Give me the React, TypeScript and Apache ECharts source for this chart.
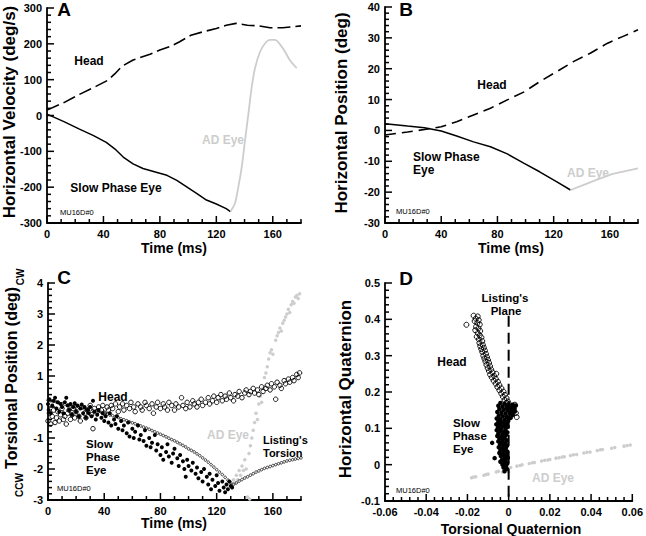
import React, { useEffect, useRef } from 'react';
import * as echarts from 'echarts';

const FONT = '"Liberation Sans", Arial, Helvetica, sans-serif';
const GRAY = '#cdcdcd';

// ---------- Panel A : horizontal velocity (deg/s) vs time (ms)
const aHeadT = [0, 12, 23, 35, 43, 48, 53, 61, 73, 80, 87, 94, 102, 111, 120, 127, 134, 142, 150, 158, 167, 180];
const aHeadV = [15, 36, 59, 82, 98, 116, 137, 155, 171, 183, 192, 206, 224, 234, 243, 252, 257, 252, 250, 245, 245, 250];
const aEyeT = [0, 12, 23, 33, 42, 48, 54, 61, 68, 78, 85, 92, 99, 106, 113, 120, 127, 130];
const aEyeV = [4, -17, -38, -56, -75, -93, -116, -135, -148, -159, -167, -181, -199, -217, -236, -247, -260, -268];
const aAdT = [130, 133.2, 135.6, 138, 140.3, 142.7, 145, 147.4, 151, 154.5, 158, 161.6, 165, 168.7, 172, 177];
const aAdV = [-268, -245, -199, -144, -70, 4, 77, 132, 178, 201, 211, 211, 199, 178, 155, 132];

// ---------- Panel B : horizontal position (deg) vs time (ms)
const bHeadT = [0, 16, 28, 40, 51, 63, 75, 87, 99, 110, 122, 134, 146, 158, 169, 180];
const bHeadV = [-1.5, -0.5, 0.3, 1.2, 2.8, 5.0, 7.2, 9.9, 12.5, 15.8, 19.0, 22.3, 25.0, 28.2, 30.4, 32.6];
const bEyeT = [0, 16, 28, 40, 51, 63, 75, 87, 99, 110, 122, 132];
const bEyeV = [2.2, 1.4, 0.9, -0.2, -1.8, -3.7, -5.3, -7.6, -10.7, -13.4, -16.6, -19.3];
const bAdT = [132, 141, 150, 162, 171, 180];
const bAdV = [-19.3, -17.7, -16.1, -14.1, -13.2, -12.3];

// ---------- Panel C : torsional position (deg) vs time (ms)
const cHead = [
  [0, -0.45], [1, -0.2], [2, -0.55], [3, -0.3], [4, -0.1], [5, -0.5], [6, -0.35], [7, -0.15], [8, -0.45], [9, -0.25],
  [10, -0.05], [11, -0.4], [12, -0.3], [13, -0.55], [14, -0.2], [15, -0.1], [16, -0.4], [17, -0.25], [18, -0.05], [19, -0.35],
  [20, -0.15], [22, -0.3], [23, -0.45], [24, 0.0], [26, -0.2], [27, -0.35], [28, -0.1], [30, 0.05], [31, -0.25], [32, -0.7],
  [33, -0.05], [35, -0.15], [36, 0.0], [38, -0.1], [39, 0.05], [40, -0.2], [42, 0.0], [43, -0.1], [45, 0.05], [46, -0.05],
  [48, 0.1], [50, -0.15], [51, 0.0], [53, 0.1], [54, -0.1], [56, 0.05], [58, -0.05], [59, 0.15], [61, 0.0], [62, -0.15],
  [64, 0.1], [66, 0.0], [67, -0.1], [69, 0.15], [70, 0.05], [72, -0.05], [74, 0.1], [75, -0.2], [77, 0.0], [78, 0.15],
  [80, -0.05], [82, 0.1], [83, 0.0], [85, -0.1], [86, 0.15], [88, 0.05], [90, -0.1], [91, 0.1], [93, 0.0], [95, 0.3],
  [96, 0.05], [98, -0.05], [99, 0.15], [101, 0.0], [103, 0.2], [104, 0.1], [106, 0.0], [107, 0.15], [109, 0.25], [110, 0.05],
  [112, 0.15], [114, 0.3], [115, 0.1], [117, 0.2], [118, 0.35], [120, 0.15], [121, 0.3], [123, 0.4], [124, 0.2], [126, 0.35],
  [127, 0.25], [129, 0.45], [130, 0.3], [132, 0.2], [133, 0.4], [135, 0.35], [136, 0.5], [138, 0.3], [140, 0.45], [141, 0.55],
  [143, 0.4], [144, 0.5], [146, 0.6], [147, 0.45], [149, 0.55], [150, 0.4], [152, 0.65], [153, 0.5], [155, 0.6], [156, 0.7],
  [158, 0.55], [159, 0.75], [161, 0.65], [162, 0.25], [163, 0.8], [165, 0.7], [166, 0.6], [168, 0.85], [169, 0.75], [171, 0.9],
  [172, 0.8], [174, 0.95], [175, 0.85], [177, 1.05], [178, 0.95], [179, 1.1],
];
const cEye = [
  [0, 0.1], [0.5, -0.1], [1, 0.25], [2, -0.2], [3, 0.05], [4, 0.2], [5, 0.3], [6, -0.05], [7, 0.15], [8, -0.15],
  [9, 0.1], [10, 0.0], [11, -0.2], [12, 0.15], [13, 0.3], [14, 0.05], [15, -0.1], [16, 0.1], [17, -0.25], [18, 0.0],
  [19, 0.12], [20, -0.15], [21, 0.05], [22, -0.3], [23, -0.05], [24, 0.08], [25, -0.2], [26, 0.0], [27, -0.35], [28, -0.1],
  [29, -0.2], [30, 0.0], [31, -0.3], [32, 0.2], [33, -0.15], [34, -0.4], [35, -0.25], [36, -0.1], [38, -0.35], [39, -0.2],
  [40, -0.45], [41, -0.3], [43, -0.5], [44, -0.2], [45, -0.6], [47, -0.4], [48, -0.55], [49, -0.3], [50, -0.7], [52, -0.45],
  [53, -0.75], [54, -0.6], [56, -0.85], [57, -0.5], [58, -0.95], [60, -0.7], [61, -1.0], [62, -0.8], [64, -0.6], [65, -1.05],
  [66, -0.9], [68, -1.1], [69, -0.75], [70, -1.25], [72, -1.0], [73, -1.3], [74, -1.15], [76, -0.9], [77, -1.4], [78, -1.2],
  [80, -1.55], [81, -1.3], [82, -1.7], [84, -1.45], [85, -1.2], [86, -1.6], [88, -1.8], [89, -1.5], [90, -1.35], [92, -1.65],
  [93, -1.9], [94, -1.55], [96, -1.75], [97, -2.0], [98, -2.25], [99, -1.7], [100, -1.9], [102, -2.05], [103, -1.8], [105, -2.15],
  [106, -1.95], [107, -2.3], [109, -2.1], [110, -2.4], [111, -2.0], [113, -2.25], [114, -2.5], [115, -2.15], [116, -2.65], [117, -2.35],
  [119, -2.55], [120, -2.2], [121, -2.45], [122, -2.7], [124, -2.4], [125, -2.6], [126, -2.75], [127, -2.5], [128, -2.65], [129, -2.4],
  [130, -2.55], [131, -2.6],
];
const cListingT = [
  0, 2, 4, 6, 8, 10, 12, 14, 16, 18, 20, 22, 24, 26, 28, 30, 32, 34, 36, 38, 40, 42, 44, 46, 48, 50, 52, 54, 56, 58,
  60, 62, 64, 66, 68, 70, 72, 74, 76, 78, 80, 82, 84, 86, 88, 90, 92, 94, 96, 98, 100, 102, 104, 106, 108, 110, 112, 114, 116, 118,
  120, 122, 124, 126, 128, 130, 132, 134, 136, 138, 140, 142, 144, 146, 148, 150, 152, 154, 156, 158, 160, 162, 164, 166, 168, 170,
  172, 174, 176, 178, 180,
];
const cListingV = [
  0.22, 0.2, 0.18, 0.16, 0.13, 0.11, 0.08, 0.06, 0.04, 0.03, 0.01, -0.01, -0.03, -0.05, -0.07, -0.09, -0.11, -0.13, -0.15, -0.18,
  -0.2, -0.23, -0.26, -0.28, -0.31, -0.34, -0.38, -0.41, -0.44, -0.48, -0.51, -0.54, -0.58, -0.61, -0.65, -0.68, -0.72, -0.76, -0.8, -0.84,
  -0.88, -0.92, -0.96, -1.01, -1.05, -1.09, -1.14, -1.19, -1.24, -1.29, -1.35, -1.4, -1.45, -1.51, -1.57, -1.64, -1.71, -1.78, -1.86, -1.94,
  -2.02, -2.1, -2.18, -2.27, -2.36, -2.44, -2.5, -2.45, -2.39, -2.34, -2.29, -2.25, -2.2, -2.15, -2.1, -2.06, -2.02, -1.98, -1.95, -1.92,
  -1.89, -1.86, -1.83, -1.8, -1.77, -1.74, -1.72, -1.7, -1.68, -1.66, -1.64,
];
const cAd = [
  [131, -2.5], [132, -2.35], [133, -2.45], [134, -2.2], [135, -2.35], [136, -2.05], [137, -2.2], [138, -1.9], [139, -2.05], [140, -1.7],
  [141, -2.0], [142, -2.9], [143, -1.5], [143.5, -2.97], [144, -1.25], [145, -1.0], [146, -0.75], [147, -0.5], [148, -0.2], [149, -0.4],
  [150, 0.1], [151, 0.35], [152, 0.15], [153, 0.6], [154, 0.95], [155, 1.1], [156, 1.3], [157, 1.55], [158, 1.75], [159, 1.85],
  [160, 1.7], [162, 2.15], [163, 2.3], [164, 2.4], [165, 2.55], [166, 2.45], [167, 2.7], [168, 2.8], [169, 2.9], [170, 3.0],
  [171, 3.15], [172, 3.05], [173, 3.3], [174, 3.4], [175, 3.35], [176, 3.55], [177, 3.6], [178, 3.5], [179, 3.65],
];

// ---------- Panel D : horizontal vs torsional quaternion
const dHead = [
  [-0.017, 0.41], [-0.015, 0.408], [-0.016, 0.402], [-0.0145, 0.398], [-0.0165, 0.395], [-0.0152, 0.39], [-0.0205, 0.385], [-0.014, 0.386],
  [-0.0158, 0.38], [-0.0146, 0.375], [-0.0162, 0.37], [-0.0138, 0.368], [-0.015, 0.362], [-0.014, 0.356], [-0.0155, 0.352], [-0.0132, 0.35],
  [-0.0145, 0.345], [-0.0128, 0.34], [-0.0142, 0.335], [-0.0125, 0.33], [-0.0138, 0.326], [-0.012, 0.322], [-0.0133, 0.318], [-0.0115, 0.314],
  [-0.0128, 0.31], [-0.011, 0.305], [-0.0123, 0.3], [-0.0105, 0.296], [-0.0118, 0.292], [-0.01, 0.288], [-0.0113, 0.284], [-0.0095, 0.28],
  [-0.0108, 0.275], [-0.009, 0.271], [-0.0102, 0.266], [-0.0085, 0.262], [-0.006, 0.25], [-0.0096, 0.258], [-0.0078, 0.254], [-0.009, 0.248],
  [-0.007, 0.244], [-0.0082, 0.24], [-0.0062, 0.236], [-0.0073, 0.231], [-0.0052, 0.228], [-0.0063, 0.223], [-0.0045, 0.219], [-0.0055, 0.214],
  [-0.0035, 0.21], [-0.0045, 0.205], [-0.0025, 0.201], [-0.0036, 0.196], [-0.0018, 0.192], [-0.0028, 0.187], [-0.001, 0.183], [-0.002, 0.178],
  [-0.0004, 0.174], [-0.0012, 0.17], [0.0004, 0.166], [0.0018, 0.162], [0.003, 0.165], [0.001, 0.158], [0.0025, 0.15], [0.0035, 0.142],
  [0.0039, 0.131], [0.0015, 0.145], [-0.0005, 0.152],
];
const dEye = [
  [-0.004, 0.17], [-0.002, 0.168], [0.0, 0.166], [0.002, 0.165], [0.0035, 0.163], [-0.005, 0.162], [-0.003, 0.16], [-0.001, 0.158],
  [0.001, 0.157], [0.0028, 0.155], [-0.0045, 0.153], [-0.0025, 0.151], [-0.0005, 0.15], [0.0015, 0.148], [0.003, 0.146], [-0.0055, 0.145],
  [-0.0035, 0.143], [-0.0015, 0.141], [0.0005, 0.14], [0.002, 0.137], [-0.0048, 0.135], [-0.0028, 0.133], [-0.0008, 0.131], [0.001, 0.129],
  [-0.0058, 0.127], [-0.004, 0.125], [-0.002, 0.123], [-0.0002, 0.121], [-0.005, 0.118], [-0.0032, 0.116], [-0.0012, 0.114], [-0.006, 0.111],
  [-0.0042, 0.109], [-0.0022, 0.107], [-0.0005, 0.105], [-0.0052, 0.102], [-0.0035, 0.1], [-0.0015, 0.098], [-0.0058, 0.095], [-0.004, 0.093],
  [-0.0022, 0.091], [-0.0006, 0.089], [-0.005, 0.086], [-0.003, 0.084], [-0.0012, 0.082], [-0.0055, 0.079], [-0.0038, 0.077], [-0.002, 0.075],
  [-0.0045, 0.071], [-0.0028, 0.069], [-0.001, 0.067], [-0.005, 0.064], [-0.0033, 0.062], [-0.0015, 0.06], [-0.008, 0.06], [-0.0042, 0.056],
  [-0.0025, 0.054], [-0.0008, 0.052], [-0.0048, 0.048], [-0.003, 0.046], [-0.0014, 0.044], [-0.004, 0.04], [-0.0022, 0.038], [-0.0006, 0.036],
  [-0.0045, 0.032], [-0.0028, 0.03], [-0.0012, 0.028], [-0.0068, 0.018], [-0.0038, 0.024], [-0.002, 0.021], [-0.0004, 0.019], [-0.0032, 0.014],
  [-0.0015, 0.012], [-0.004, 0.008], [-0.0022, 0.006], [-0.0006, 0.004], [-0.003, 0.0], [-0.0012, -0.002], [-0.0025, -0.008], [-0.0008, -0.012],
  [-0.002, -0.018],
];
const dAd = [
  [-0.018, -0.036], [-0.017, -0.034], [-0.016, -0.033], [-0.012, -0.029], [-0.011, -0.027], [-0.01, -0.026],
  [-0.006, -0.02], [-0.005, -0.018], [-0.003, -0.02], [-0.002, -0.015], [-0.001, -0.012], [0.0, -0.02], [0.001, -0.008], [-0.0025, -0.005],
  [0.004, -0.004], [0.0055, -0.002], [0.0065, 0.0], [0.01, 0.003], [0.0115, 0.005], [0.0125, 0.006],
  [0.016, 0.01], [0.0175, 0.012], [0.019, 0.013], [0.02, 0.014], [0.023, 0.018], [0.0245, 0.019], [0.026, 0.021], [0.027, 0.022],
  [0.03, 0.025], [0.0315, 0.027], [0.033, 0.028], [0.0365, 0.032], [0.038, 0.034], [0.0395, 0.035],
  [0.043, 0.039], [0.0445, 0.041], [0.0455, 0.042], [0.05, 0.045], [0.0515, 0.047], [0.056, 0.051], [0.0575, 0.053], [0.059, 0.054],
];
const dPlaneX = [0, 0];
const dPlaneY = [0.41, -0.1];

// ---------- axis ranges and tick steps per panel: [min, max, major step, minor step]
const timeAxis = [0, 180, 40, 10];
const aYAxis = [-300, 300, 100, 20];
const bYAxis = [-30, 40, 10, 2];
const cYAxis = [-3, 4, 1, 0.2];
const dXAxis = [-0.06, 0.06, 0.02, 0.004];
const dYAxis = [-0.1, 0.5, 0.1, 0.02];

const zip = (xs: number[], ys: number[]) => xs.map((x, i) => [x, ys[i]]);

const GRIDS = [
  { left: 47, top: 8, width: 254, height: 215 },
  { left: 385, top: 7, width: 253, height: 216 },
  { left: 48, top: 283, width: 253, height: 217 },
  { left: 385, top: 283, width: 252, height: 218 },
];

const axis = (gridIndex: number, spec: number[], hideMax = false) => ({
  type: 'value',
  gridIndex,
  min: spec[0],
  max: spec[1],
  interval: spec[2],
  axisLine: { show: true, onZero: false, lineStyle: { color: '#000', width: 1.8 } },
  axisTick: { show: false },
  axisLabel: {
    show: true,
    color: '#000',
    fontWeight: 'bold',
    fontSize: 11,
    fontFamily: FONT,
    margin: 5,
    showMaxLabel: !hideMax,
  },
  splitLine: { show: false },
});

// tick positions along an axis (axis furniture, not data)
const tickList = (spec: number[]) => {
  const out: { v: number; major: boolean }[] = [];
  const n = Math.round((spec[1] - spec[0]) / spec[3]);
  for (let i = 0; i <= n; i++) {
    const v = spec[0] + i * spec[3];
    const k = (v - spec[0]) / spec[2];
    out.push({ v, major: Math.abs(k - Math.round(k)) < 1e-6 });
  }
  return out;
};

// custom series drawing inward-pointing ticks (small filled rects) through the grid's own scales
const tickSeries = (idx: number, xs: number[], ys: number[]) => ({
  type: 'custom',
  xAxisIndex: idx,
  yAxisIndex: idx,
  silent: true,
  clip: false,
  z: 10,
  data: [[xs[0], ys[0]]],
  renderItem: (_p: any, api: any) => {
    const children: any[] = [];
    const st = { fill: '#000' };
    tickList(xs).forEach((t) => {
      const p = api.coord([t.v, ys[0]]);
      const len = t.major ? 7 : 4;
      children.push({ type: 'rect', shape: { x: p[0] - 0.75, y: p[1] - len, width: 1.5, height: len }, style: st });
    });
    tickList(ys).forEach((t) => {
      const p = api.coord([xs[0], t.v]);
      const len = t.major ? 7 : 4;
      children.push({ type: 'rect', shape: { x: p[0], y: p[1] - 0.75, width: len, height: 1.5 }, style: st });
    });
    return { type: 'group', children };
  },
});

const txt = (x: number, y: number, text: string, o: any = {}) => ({
  type: 'text',
  x,
  y,
  rotation: o.rotation || 0,
  silent: true,
  style: {
    text,
    fill: o.fill || '#000',
    font: `${o.weight || 'bold'} ${o.size || 12}px ${FONT}`,
    textAlign: o.align || 'center',
    textVerticalAlign: 'middle',
  },
});

export default function App() {
  const ref = useRef<HTMLDivElement>(null);
  useEffect(() => {
    if (!ref.current) return;
    const chart = echarts.init(ref.current, undefined, { renderer: 'svg' });
    const lineS = (xi: number, data: any[], color: string, type: any, width = 1.5, smooth: any = false) => ({
      type: 'line',
      xAxisIndex: xi,
      yAxisIndex: xi,
      data,
      symbol: 'none',
      smooth,
      silent: true,
      lineStyle: { color, width, type },
      z: 3,
    });
    const scat = (xi: number, data: any[], size: number, fill: string, stroke: string, bw: number, z = 3) => ({
      type: 'scatter',
      xAxisIndex: xi,
      yAxisIndex: xi,
      data,
      symbol: 'circle',
      symbolSize: size,
      silent: true,
      itemStyle: { color: fill, borderColor: stroke, borderWidth: bw, opacity: 1 },
      z,
    });
    const R = Math.PI / 2;
    chart.setOption({
      animation: false,
      backgroundColor: '#fff',
      grid: GRIDS,
      xAxis: [axis(0, timeAxis, true), axis(1, timeAxis, true), axis(2, timeAxis, true), axis(3, dXAxis)],
      yAxis: [axis(0, aYAxis), axis(1, bYAxis), axis(2, cYAxis), axis(3, dYAxis)],
      series: [
        tickSeries(0, timeAxis, aYAxis),
        tickSeries(1, timeAxis, bYAxis),
        tickSeries(2, timeAxis, cYAxis),
        tickSeries(3, dXAxis, dYAxis),
        // A
        lineS(0, zip(aHeadT, aHeadV), '#000', [13, 5], 1.6),
        lineS(0, zip(aEyeT, aEyeV), '#000', 'solid', 1.5),
        lineS(0, zip(aAdT, aAdV), GRAY, 'solid', 1.8, 0.3),
        // B
        lineS(1, zip(bHeadT, bHeadV), '#000', [11, 6], 1.6),
        lineS(1, zip(bEyeT, bEyeV), '#000', 'solid', 1.5),
        lineS(1, zip(bAdT, bAdV), GRAY, 'solid', 1.8),
        // C
        scat(2, cAd, 3.5, GRAY, GRAY, 0, 2),
        scat(2, zip(cListingT, cListingV), 2.6, 'rgba(255,255,255,0)', '#111', 0.8, 3),
        scat(2, cHead, 4.5, 'rgba(255,255,255,0)', '#000', 0.9, 4),
        scat(2, cEye, 4, '#000', '#000', 0, 5),
        // D
        lineS(3, zip(dPlaneX, dPlaneY), '#000', [11, 6], 2),
        scat(3, dAd, 3.5, GRAY, GRAY, 0, 2),
        scat(3, dHead, 5, 'rgba(255,255,255,0)', '#000', 0.9, 4),
        scat(3, dEye, 4.5, '#000', '#000', 0, 5),
      ],
      graphic: [
        txt(64, 9, 'A', { size: 19 }),
        txt(406, 9, 'B', { size: 19 }),
        txt(64, 277, 'C', { size: 19 }),
        txt(406, 278, 'D', { size: 19 }),
        txt(9, 112, 'Horizontal Velocity (deg/s)', { size: 17, rotation: R }),
        txt(174, 248, 'Time (ms)', { size: 14 }),
        txt(341, 113, 'Horizontal Position (deg)', { size: 17, rotation: R }),
        txt(511, 248, 'Time (ms)', { size: 14 }),
        txt(11, 378, 'Torsional Position (deg)', { size: 16, rotation: R }),
        txt(20, 277, 'CW', { size: 10, rotation: R }),
        txt(19, 485, 'CCW', { size: 10, rotation: R }),
        txt(174, 523, 'Time (ms)', { size: 14 }),
        txt(345, 389, 'Horizontal Quaternion', { size: 17, rotation: R }),
        txt(511, 529, 'Torsional Quaternion', { size: 14 }),
        txt(60, 212, 'MU16D#0', { size: 7.5, weight: 'normal', align: 'left' }),
        txt(396, 211, 'MU16D#0', { size: 7.5, weight: 'normal', align: 'left' }),
        txt(57, 488, 'MU16D#0', { size: 7.5, weight: 'normal', align: 'left' }),
        txt(396, 490, 'MU16D#0', { size: 7.5, weight: 'normal', align: 'left' }),
        txt(89, 61, 'Head'),
        txt(116, 188, 'Slow Phase Eye'),
        txt(223, 140, 'AD Eye', { fill: GRAY }),
        txt(492, 85, 'Head'),
        txt(413, 157, 'Slow Phase', { align: 'left' }),
        txt(413, 170, 'Eye', { align: 'left' }),
        txt(588, 173, 'AD Eye', { fill: GRAY }),
        txt(113, 397, 'Head'),
        txt(86, 444, 'Slow', { align: 'left', size: 11.5 }),
        txt(86, 457, 'Phase', { align: 'left', size: 11.5 }),
        txt(86, 470, 'Eye', { align: 'left', size: 11.5 }),
        txt(228, 435, 'AD Eye', { fill: GRAY }),
        txt(263, 440, "Listing's", { align: 'left', size: 11 }),
        txt(263, 453, 'Torsion', { align: 'left', size: 11 }),
        txt(505, 298, "Listing's", { size: 11.5 }),
        txt(506, 311, 'Plane', { size: 11.5 }),
        txt(452, 362, 'Head'),
        txt(453, 423, 'Slow', { align: 'left', size: 11.5 }),
        txt(453, 436, 'Phase', { align: 'left', size: 11.5 }),
        txt(453, 449, 'Eye', { align: 'left', size: 11.5 }),
        txt(553, 478, 'AD Eye', { fill: GRAY }),
      ],
    });
    return () => chart.dispose();
  }, []);
  return <div ref={ref} style={{ width: 646, height: 536, position: 'absolute', left: 0, top: 0 }} />;
}
